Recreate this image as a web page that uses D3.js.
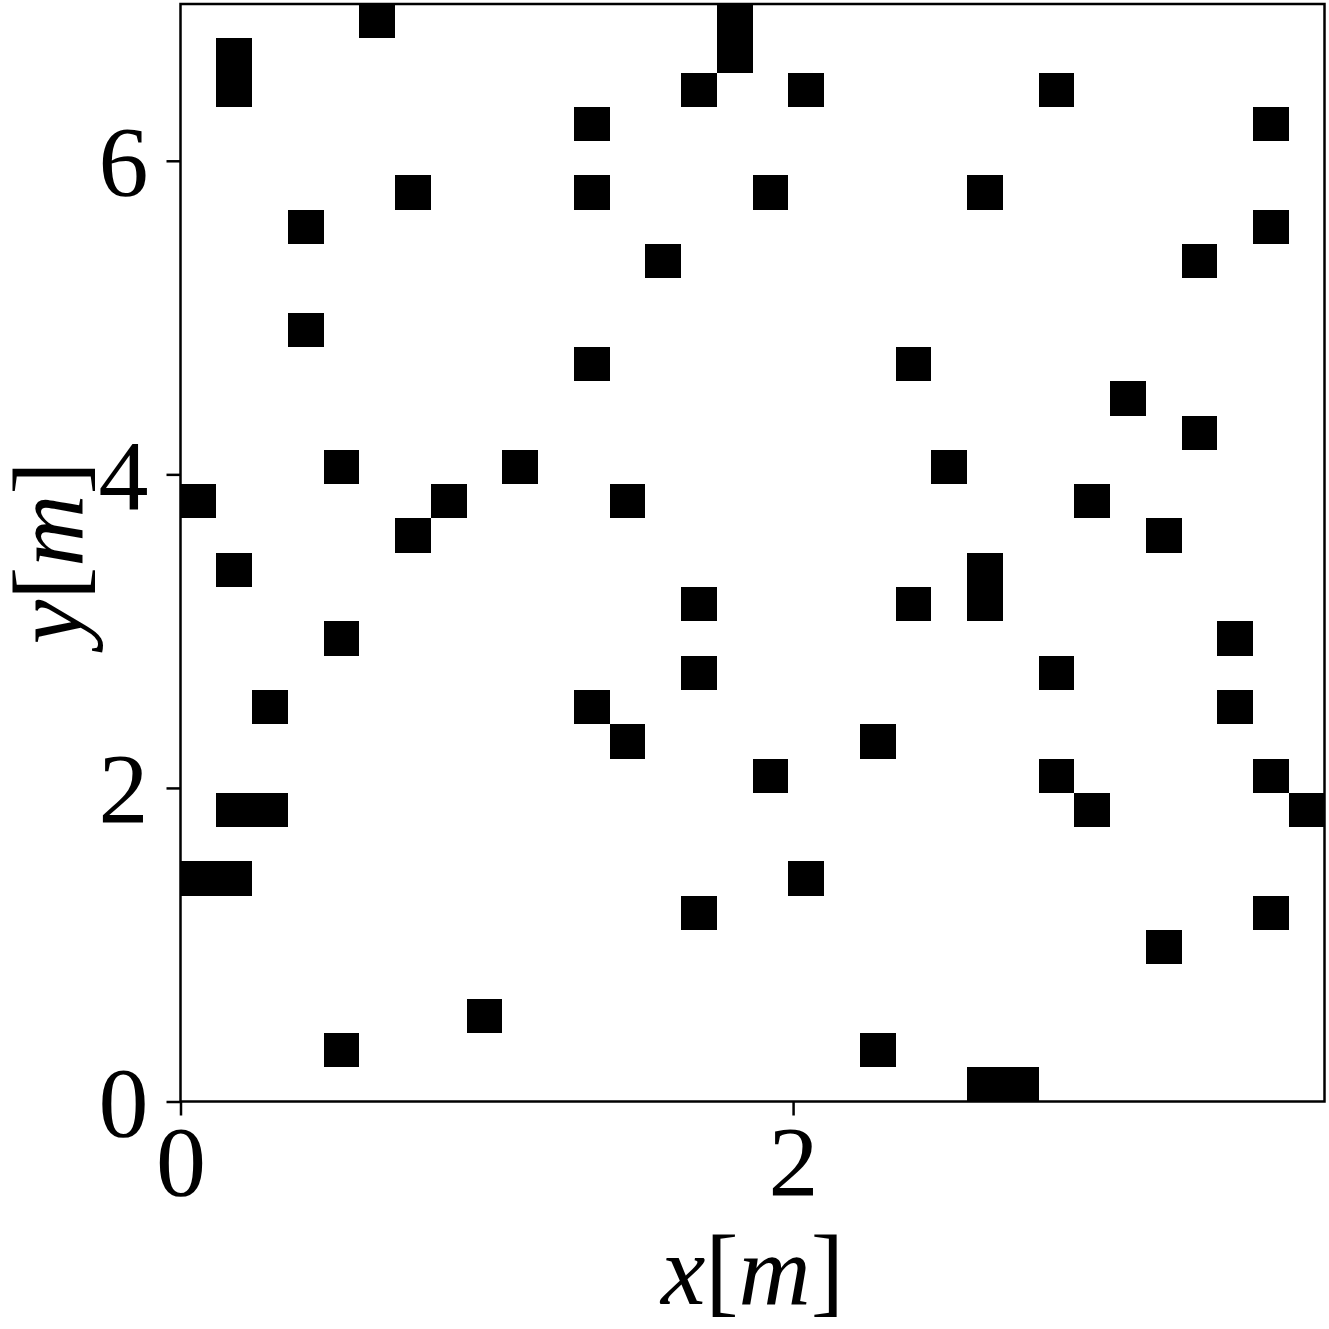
<!DOCTYPE html>
<html>
<head>
<meta charset="utf-8">
<script src="https://cdn.jsdelivr.net/npm/d3@7"></script>
<style>
  html, body { margin: 0; padding: 0; background: #fff; }
  svg { display: block; }
  text { font-family: "Liberation Serif", "DejaVu Serif", serif; fill: #000; }
</style>
</head>
<body>
<svg id="chart" width="1329" height="1329"></svg>
<script>
// Grid definition
const xMax = 3.735;
const yMax = 7.0;
const nCols = 32;
const nRows = 32;
// Occupied cells (column index, row index from bottom)
const occCol = [5, 15, 15, 1, 1, 14, 17, 24, 11, 30,
                6, 11, 16, 22, 3, 30, 13, 28, 3, 11, 20, 26, 28,
                4, 9, 21, 0, 7, 12, 25, 6, 27, 1, 22, 14, 20, 22,
                4, 29, 14, 24, 2, 11, 29, 12, 19, 16, 24, 30,
                1, 2, 25, 31, 0, 1, 17, 14, 30, 27, 8, 4, 19, 22, 23];
const occRow = [31, 31, 30, 30, 29, 29, 29, 29, 28, 28,
                26, 26, 26, 26, 25, 25, 24, 24, 22, 21, 21, 20, 19,
                18, 18, 18, 17, 17, 17, 17, 16, 16, 15, 15, 14, 14, 14,
                13, 13, 12, 12, 11, 11, 11, 10, 10, 9, 9, 9,
                8, 8, 8, 8, 6, 6, 6, 5, 5, 4, 2, 1, 1, 0, 0];
const xTicks = [0, 2];
const yTicks = [0, 2, 4, 6];

const margin = { left: 180.5, right: 4.5, top: 4, bottom: 227.5 };
const W = 1329, H = 1329;
const svg = d3.select("#chart");
const x = d3.scaleLinear().domain([0, xMax]).range([margin.left, W - margin.right]);
const y = d3.scaleLinear().domain([0, yMax]).range([H - margin.bottom, margin.top]);
const cw = xMax / nCols, ch = yMax / nRows;

const cells = occCol.map((c, i) => ({ c, r: occRow[i] }));
svg.append("g").selectAll("rect").data(cells).join("rect")
  .attr("x", d => x(d.c * cw))
  .attr("y", d => y((d.r + 1) * ch))
  .attr("width", d => x((d.c + 1) * cw) - x(d.c * cw))
  .attr("height", d => y(d.r * ch) - y((d.r + 1) * ch))
  .attr("fill", "#000")
  .attr("shape-rendering", "crispEdges");

// frame
svg.append("rect")
  .attr("x", x(0)).attr("y", y(yMax))
  .attr("width", x(xMax) - x(0)).attr("height", y(0) - y(yMax))
  .attr("fill", "none").attr("stroke", "#000").attr("stroke-width", 2.5);

const xAxis = svg.append("g").attr("transform", `translate(0,${y(0)})`)
  .call(d3.axisBottom(x).tickValues(xTicks).tickFormat(d3.format("d")).tickSize(14).tickPadding(8));
const yAxis = svg.append("g").attr("transform", `translate(${x(0)},0)`)
  .call(d3.axisLeft(y).tickValues(yTicks).tickFormat(d3.format("d")).tickSize(14).tickPadding(18));
[xAxis, yAxis].forEach(a => {
  a.select(".domain").remove();
  a.selectAll(".tick line").attr("stroke", "#000").attr("stroke-width", 2.5);
  a.selectAll(".tick text").attr("font-size", 100)
    .attr("font-family", "'Liberation Serif', serif").attr("fill", "#000");
});
yAxis.selectAll(".tick text").attr("dy", "0.34em");

// axis labels
const xl = svg.append("text")
  .attr("x", (x(0) + x(xMax)) / 2).attr("y", 1304)
  .attr("text-anchor", "middle").attr("font-size", 100);
xl.append("tspan").attr("font-style", "italic").text("x");
xl.append("tspan").text("[");
xl.append("tspan").attr("font-style", "italic").text("m");
xl.append("tspan").text("]");

const yl = svg.append("text")
  .attr("transform", `translate(82,${(y(0) + y(yMax)) / 2}) rotate(-90)`)
  .attr("text-anchor", "middle").attr("font-size", 100);
yl.append("tspan").attr("font-style", "italic").text("y");
yl.append("tspan").text("[");
yl.append("tspan").attr("font-style", "italic").text("m");
yl.append("tspan").text("]");
</script>
</body>
</html>
